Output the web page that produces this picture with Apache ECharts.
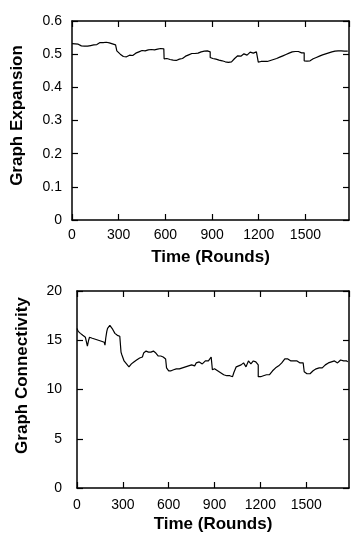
<!DOCTYPE html>
<html>
<head>
<meta charset="utf-8">
<script src="https://cdn.jsdelivr.net/npm/echarts@6/dist/echarts.min.js"></script>
<style>
html,body{margin:0;padding:0;background:#fff;}
#chart{width:352px;height:535px;}
</style>
</head>
<body>
<div id="chart"></div>
<script>
// ---- Data ----
const xTickValues = [0, 300, 600, 900, 1200, 1500];
const expTicks = [0, 0.1, 0.2, 0.3, 0.4, 0.5, 0.6];
const connTicks = [0, 5, 10, 15, 20];

const expRounds = [0,10,20,30,40,50,60,70,80,90,100,110,120,130,140,150,160,170,180,190,200,210,220,230,240,250,260,270,280,288,288,295,300,310,320,330,340,350,360,370,380,390,400,410,420,430,440,450,460,470,480,490,500,510,520,530,540,550,560,570,580,590,592,600,610,620,630,640,650,660,670,680,690,700,710,720,730,740,750,760,770,780,790,800,810,820,830,840,850,860,870,880,888,888,895,905,915,925,935,945,955,965,975,985,995,1005,1015,1025,1035,1045,1055,1065,1075,1085,1095,1105,1115,1125,1135,1145,1155,1165,1175,1185,1195,1197,1205,1215,1225,1235,1245,1255,1265,1275,1285,1295,1305,1315,1325,1335,1345,1355,1365,1375,1385,1395,1405,1415,1425,1435,1445,1455,1465,1475,1485,1492,1492,1500,1510,1520,1530,1540,1550,1560,1570,1580,1590,1600,1610,1620,1630,1640,1650,1660,1670,1680,1690,1700,1710,1720,1730,1740,1750,1760,1772];
const expValues = [0.532,0.530,0.531,0.528,0.530,0.526,0.525,0.521,0.524,0.526,0.524,0.527,0.526,0.525,0.528,0.530,0.529,0.533,0.535,0.537,0.535,0.539,0.536,0.533,0.534,0.530,0.531,0.527,0.528,0.526,0.510,0.508,0.504,0.500,0.497,0.493,0.496,0.492,0.496,0.497,0.499,0.496,0.500,0.503,0.505,0.507,0.509,0.511,0.512,0.510,0.514,0.513,0.512,0.514,0.515,0.513,0.517,0.515,0.514,0.517,0.518,0.516,0.486,0.484,0.487,0.485,0.484,0.486,0.482,0.484,0.481,0.481,0.485,0.483,0.487,0.490,0.494,0.495,0.498,0.499,0.502,0.499,0.502,0.505,0.503,0.506,0.507,0.505,0.509,0.507,0.510,0.508,0.507,0.490,0.488,0.487,0.489,0.485,0.483,0.482,0.479,0.480,0.480,0.477,0.476,0.475,0.473,0.477,0.482,0.487,0.490,0.495,0.496,0.494,0.499,0.501,0.498,0.497,0.502,0.506,0.507,0.503,0.503,0.507,0.505,0.476,0.475,0.478,0.476,0.478,0.480,0.478,0.481,0.481,0.483,0.484,0.483,0.487,0.488,0.491,0.492,0.495,0.496,0.499,0.500,0.503,0.504,0.507,0.510,0.508,0.506,0.508,0.505,0.504,0.506,0.504,0.480,0.478,0.479,0.477,0.480,0.482,0.486,0.487,0.490,0.491,0.494,0.495,0.498,0.499,0.501,0.502,0.504,0.504,0.507,0.507,0.509,0.508,0.510,0.508,0.510,0.510,0.509,0.511,0.509];

const connRounds = [0,8,15,22,30,38,45,55,62,68,72,76,82,90,100,110,120,130,140,150,160,170,178,183,188,195,200,208,215,222,228,234,240,248,256,264,272,280,288,288,294,300,308,316,324,332,340,348,356,364,372,380,390,400,410,420,428,436,444,452,460,468,476,484,492,500,508,516,524,532,540,548,556,564,572,580,586,586,592,600,608,616,624,632,640,650,660,670,680,690,700,710,720,730,740,750,760,770,780,790,800,810,820,830,840,850,860,870,878,884,886,892,900,910,920,930,940,950,960,970,980,990,1000,1010,1018,1026,1034,1042,1050,1058,1066,1074,1082,1090,1098,1106,1114,1122,1130,1138,1146,1154,1162,1170,1178,1186,1186,1194,1202,1210,1220,1230,1240,1250,1260,1270,1280,1290,1300,1310,1320,1330,1340,1350,1360,1370,1380,1390,1400,1410,1420,1430,1440,1450,1460,1470,1480,1487,1487,1495,1505,1515,1525,1535,1545,1555,1565,1575,1585,1595,1605,1615,1625,1635,1645,1655,1665,1675,1685,1695,1705,1715,1725,1735,1745,1755,1765,1772];
const connValues = [16.2,15.9,16.0,15.7,15.8,15.5,15.6,15.3,15.4,14.4,14.2,15.0,15.3,15.1,15.2,15.0,15.1,14.9,15.0,15.1,14.9,15.0,14.8,14.5,15.2,15.9,16.2,16.0,16.5,16.7,16.4,16.1,15.9,15.7,15.6,15.5,15.6,15.4,15.4,13.8,13.5,13.3,12.9,12.7,12.6,12.4,12.3,12.4,12.6,12.8,12.8,12.9,13.0,13.0,13.2,13.4,13.3,13.7,13.6,13.9,14.0,13.8,13.9,13.8,14.0,13.9,13.8,13.7,13.6,13.4,13.6,13.4,13.2,13.3,13.2,13.1,13.0,12.2,12.0,11.9,11.8,11.9,11.8,12.0,11.9,12.1,12.2,12.1,12.3,12.2,12.4,12.3,12.5,12.4,12.6,12.5,12.6,12.4,12.7,12.6,12.8,12.7,12.6,12.8,12.9,12.7,12.9,13.1,13.3,13.1,12.0,11.9,12.1,12.0,11.9,11.8,11.7,11.6,11.5,11.5,11.4,11.3,11.4,11.2,11.3,11.7,12.0,12.3,12.2,12.4,12.6,12.5,12.4,12.7,12.5,12.3,12.6,12.9,12.8,12.6,12.7,12.9,12.7,12.8,12.6,12.5,11.3,11.2,11.3,11.2,11.4,11.3,11.5,11.6,11.5,11.7,11.9,12.0,12.2,12.3,12.4,12.6,12.7,12.9,13.1,13.0,13.1,13.0,12.9,13.0,12.9,12.8,12.9,12.8,12.7,12.6,12.7,12.6,11.8,11.7,11.6,11.7,11.6,11.8,11.9,12.0,12.1,12.0,12.2,12.3,12.2,12.4,12.5,12.6,12.7,12.9,12.8,12.7,12.9,12.8,12.7,12.9,13.0,12.8,12.9,12.8,12.9,12.8];

// ---- Build chart ----
const FONT = '"Liberation Sans", Arial, sans-serif';
const xMax = 1780;

function pairs(xs, ys) { return xs.map((x, i) => [x, ys[i]]); }

const lineCfg = { show: true, onZero: false, lineStyle: { color: '#000', width: 1.5 } };
const tickCfg = { show: true, inside: true, length: 6, lineStyle: { color: '#000', width: 1.2 } };

function xAxisMain(gridIndex, labelMargin, nameGap) {
  return {
    type: 'value', gridIndex, position: 'bottom', min: 0, max: xMax, interval: 300,
    name: 'Time (Rounds)', nameLocation: 'middle', nameGap,
    nameTextStyle: { fontFamily: FONT, fontWeight: 'bold', fontSize: 17, color: '#000' },
    axisLine: lineCfg, axisTick: tickCfg,
    axisLabel: {
      fontFamily: FONT, fontSize: 14, color: '#000', margin: labelMargin,
      showMaxLabel: false,
      formatter: v => (xTickValues.indexOf(v) >= 0 ? String(v) : '')
    },
    splitLine: { show: false }
  };
}
function xAxisTop(gridIndex) {
  return {
    type: 'value', gridIndex, position: 'top', min: 0, max: xMax, interval: 300,
    axisLine: lineCfg, axisTick: tickCfg,
    axisLabel: { show: false }, splitLine: { show: false }
  };
}
function yAxisMain(gridIndex, max, interval, name, labelMargin, nameGap, ticks, shiftUp) {
  return {
    type: 'value', gridIndex, position: 'left', min: 0, max, interval,
    name, nameLocation: 'middle', nameGap,
    nameTextStyle: { fontFamily: FONT, fontWeight: 'bold', fontSize: 17, color: '#000',
                     padding: [0, 0, 0, shiftUp] },
    axisLine: lineCfg, axisTick: tickCfg,
    axisLabel: {
      fontFamily: FONT, fontSize: 14, color: '#000', margin: labelMargin,
      formatter: v => {
        const t = ticks.find(k => Math.abs(k - v) < 1e-9);
        return t === undefined ? '' : String(t);
      }
    },
    splitLine: { show: false }
  };
}
function yAxisRight(gridIndex, max, interval) {
  return {
    type: 'value', gridIndex, position: 'right', min: 0, max, interval,
    axisLine: lineCfg, axisTick: tickCfg,
    axisLabel: { show: false }, splitLine: { show: false }
  };
}

const chart = echarts.init(document.getElementById('chart'), null, { renderer: 'canvas' });
chart.setOption({
  animation: false,
  backgroundColor: '#fff',
  grid: [
    { left: 72, top: 21, width: 277, height: 199 },
    { left: 77, top: 291, width: 272, height: 197 }
  ],
  xAxis: [
    xAxisMain(0, 8, 29), xAxisTop(0),
    xAxisMain(1, 10, 28), xAxisTop(1)
  ],
  yAxis: [
    yAxisMain(0, 0.6, 0.1, 'Graph Expansion', 10, 46, expTicks, 10), yAxisRight(0, 0.6, 0.1),
    yAxisMain(1, 20, 5, 'Graph Connectivity', 15, 46, connTicks, 28), yAxisRight(1, 20, 5)
  ],
  series: [
    {
      type: 'line', xAxisIndex: 0, yAxisIndex: 0,
      data: pairs(expRounds, expValues),
      showSymbol: false, symbol: 'none',
      lineStyle: { color: '#000', width: 1.2 }
    },
    {
      type: 'line', xAxisIndex: 2, yAxisIndex: 2,
      data: pairs(connRounds, connValues),
      showSymbol: false, symbol: 'none',
      lineStyle: { color: '#000', width: 1.2 }
    }
  ]
});
</script>
</body>
</html>
